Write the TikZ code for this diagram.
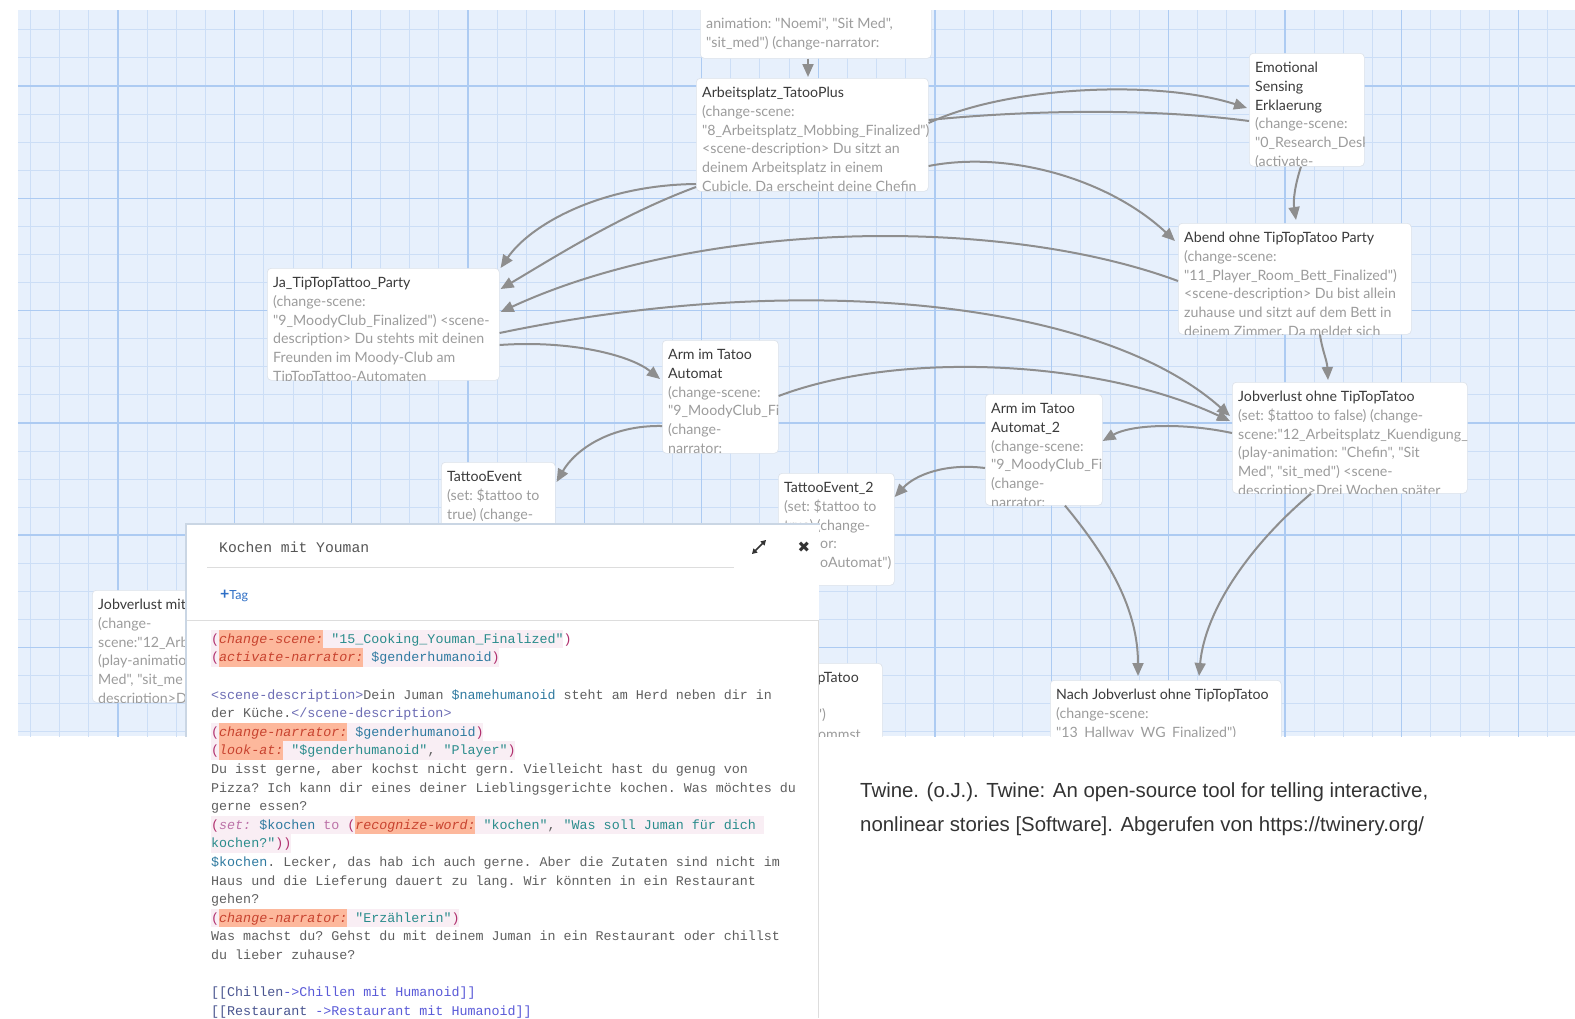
\documentclass[tikz,border=0pt]{standalone}
\usepackage{fontspec}
\usetikzlibrary{arrows.meta,calc}
\newfontfamily\nodefont{Lato}
\newfontfamily\codefont{Liberation Mono}
\newfontfamily\capfont{Liberation Sans}
\newfontfamily\symfont{DejaVu Sans}
\definecolor{gridbg}{HTML}{E7F0FC}
\definecolor{gridminor}{HTML}{CCDEF6}
\definecolor{gridmajor}{HTML}{ADCBF2}
\definecolor{ttlc}{HTML}{3A3A3A}
\definecolor{bodyc}{HTML}{9C9C9C}
\definecolor{boxline}{HTML}{DCE2EA}
\definecolor{arrowc}{HTML}{8E8E8E}
\definecolor{cplain}{HTML}{5F5F5F}
\definecolor{cparen}{HTML}{B0306E}
\definecolor{cmacro}{HTML}{C8432F}
\definecolor{cstr}{HTML}{2A8C8C}
\definecolor{cvar}{HTML}{2F7AA0}
\definecolor{ctag}{HTML}{6C6CB4}
\definecolor{csalmon}{HTML}{FDB89C}
\definecolor{cpink}{HTML}{F9EEF4}
\definecolor{cset}{HTML}{BC72A8}
\definecolor{clinka}{HTML}{4A5590}
\definecolor{clinkb}{HTML}{5A5AD8}
\definecolor{hdrc}{HTML}{555555}
\definecolor{tagc}{HTML}{2E6FC6}
\definecolor{iconc}{HTML}{333333}
\definecolor{capc}{HTML}{333333}
\definecolor{rulec}{HTML}{DDDDDD}
\definecolor{panelshadow}{HTML}{CAD6E4}
\newcommand\ttl[1]{\textcolor{ttlc}{#1}}
\newcommand\kP[1]{\textcolor{cparen}{#1}}
\newcommand\kM[1]{\textcolor{cmacro}{\itshape #1}}
\newcommand\kS[1]{\textcolor{cstr}{#1}}
\newcommand\kV[1]{\textcolor{cvar}{#1}}
\newcommand\kT[1]{\textcolor{ctag}{#1}}
\newcommand\kK[1]{\textcolor{cset}{#1}}
\newcommand\kA[1]{\textcolor{clinka}{#1}}
\newcommand\kB[1]{\textcolor{clinkb}{#1}}
\tikzset{
  passagebox/.style={draw=boxline, fill=white, rounded corners=4pt, inner sep=0pt, line width=0.6pt},
  ptfont/.style={font=\nodefont\fontsize{14.2}{18.7}\selectfont\frenchspacing},
  passagetext/.style={anchor=north west, inner sep=0pt, align=left, text=bodyc, ptfont},
  fragment/.style={inner sep=0pt, text=bodyc, ptfont},
  conn/.style={draw=arrowc, line width=2pt, -{Triangle[length=13pt,width=11pt]}},
  connplain/.style={draw=arrowc, line width=2pt},
}
\newcommand\passage[6]{%
  \node[passagebox, minimum width=#4, minimum height=#5, anchor=north west] (#1) at (#2,#3) {};
  \begin{scope}
    \clip[rounded corners=4pt] (#2,#3) rectangle ++(#4,#5);
    \node[passagetext] (#1-text) at ({#2+6},{#3+6.4}) {\strut #6};
  \end{scope}}
\newcommand\codebg[4]{%
  \fill[#4] ({211+8.011*#2},{643+18.6*#1-13.3}) rectangle ({211+8.011*#3},{643+18.6*#1+5.3});}
\begin{document}
\begin{tikzpicture}[x=1pt,y=-1pt]
\useasboundingbox (0,0) rectangle (1575,1018);
\fill[white] (0,0) rectangle (1575,1018);
\begin{scope}
  \clip (18,10) rectangle (1575,736);
  \fill[gridbg] (18,10) rectangle (1575,736);
  \foreach \i in {-4,...,50} {\pgfmathsetmacro\xx{118+29.175*\i}\draw[gridminor, line width=0.9pt] (\xx,0) -- (\xx,740);}
  \foreach \i in {-3,...,24} {\pgfmathsetmacro\yy{86+28.075*\i}\draw[gridminor, line width=0.9pt] (0,\yy) -- (1575,\yy);}
  \foreach \i in {-1,...,12} {\pgfmathsetmacro\xx{118+116.7*\i}\draw[gridmajor, line width=1.3pt] (\xx,0) -- (\xx,740);}
  \foreach \i in {-1,...,6} {\pgfmathsetmacro\yy{86+112.3*\i}\draw[gridmajor, line width=1.6pt] (0,\yy) -- (1575,\yy);}

  \passage{T0}{700}{-10}{231}{68}{\mbox{}\\animation: "Noemi", "Sit Med",\\"sit\_med") (change-narrator:}
  \passage{A}{696}{78}{232}{113}{\ttl{Arbeitsplatz\_TatooPlus}\\(change-scene:\\"8\_Arbeitsplatz\_Mobbing\_Finalized")\\<scene-description> Du sitzt an\\deinem Arbeitsplatz in einem\\Cubicle. Da erscheint deine Chefin}
  \passage{E}{1249}{53}{115}{113}{\ttl{Emotional}\\\ttl{Sensing}\\\ttl{Erklaerung}\\(change-scene:\\"0\_Research\_Desk\_Finalized")\\(activate-}
  \passage{B}{1178}{223}{233}{111}{\ttl{Abend ohne TipTopTatoo Party}\\(change-scene:\\"11\_Player\_Room\_Bett\_Finalized")\\<scene-description> Du bist allein\\zuhause und sitzt auf dem Bett in\\deinem Zimmer. Da meldet sich}
  \passage{J}{267}{268}{232}{112}{\ttl{Ja\_TipTopTattoo\_Party}\\(change-scene:\\"9\_MoodyClub\_Finalized") <scene-\\description> Du stehts mit deinen\\Freunden im Moody-Club am\\TipTopTattoo-Automaten}
  \passage{M}{662}{340}{116}{113}{\ttl{Arm im Tatoo}\\\ttl{Automat}\\(change-scene:\\"9\_MoodyClub\_Finalized")\\(change-\\narrator:}
  \passage{TE}{441}{462}{114}{120}{\ttl{TattooEvent}\\(set: \$tattoo to\\true) (change-}
  \passage{M2}{985}{394}{117}{111}{\ttl{Arm im Tatoo}\\\ttl{Automat\_2}\\(change-scene:\\"9\_MoodyClub\_Finalized")\\(change-\\narrator:}
  \passage{TE2}{778}{473}{116}{112}{\ttl{TattooEvent\_2}\\(set: \$tattoo to\\true) (change-}
  \node[fragment, anchor=base west] (TE2-t4) at (820,548.3) {or:};
  \node[fragment, anchor=base west] (TE2-t5) at (820,567) {oAutomat")};
  \passage{JO}{1232}{382}{235}{111}{\ttl{Jobverlust ohne TipTopTatoo}\\(set: \$tattoo to false) (change-\\scene:"12\_Arbeitsplatz\_Kuendigung\_Finalized")\\(play-animation: "Chefin", "Sit\\Med", "sit\_med") <scene-\\description>Drei Wochen später}
  \passage{JM}{92}{590}{232}{112}{\ttl{Jobverlust mit}\\(change-\\scene:"12\_Arb\\(play-animatio\\Med", "sit\_me\\description>Dr}
  \passage{NJ}{1050}{680}{231}{110}{\ttl{Nach Jobverlust ohne TipTopTatoo}\\(change-scene:\\"13\_Hallway\_WG\_Finalized")}
  \node[passagebox, minimum width=232, minimum height=112, anchor=north west] (PT) at (650,663) {};
  \node[fragment, anchor=base east, text=ttlc] (PT-t1) at (859,682.5) {pTatoo};
  \node[fragment, anchor=base east] (PT-t3) at (826,719.9) {")};
  \node[fragment, anchor=base east] (PT-t4) at (861,739.6) {ommst};

  % connectors
  \draw[conn] ($(T0.south west)+(108,0)$) -- ($(A.north west)+(112,-1)$);
  \draw[conn] ($(A.north east)+(0,45)$) .. controls (1010,85) and (1160,80) .. ($(E.north west)+(-2,55)$);
  \draw[connplain] ($(E.north west)+(0,68)$) .. controls (1150,108) and (1030,110) .. ($(A.north east)+(0,42)$);
  \draw[conn] ($(A.north east)+(0,88)$) .. controls (1010,150) and (1110,180) .. ($(B.north west)+(-3,18)$);
  \draw[conn] ($(E.south west)+(52,0)$) .. controls (1295,185) and (1293,200) .. ($(B.north west)+(118,-3)$);
  \draw[conn] ($(A.north west)+(0,106)$) .. controls (600,185) and (530,225) .. ($(J.north east)+(1,0)$);
  \draw[conn] ($(A.north west)+(0,109)$) .. controls (620,215) and (550,260) .. ($(J.north east)+(1,21)$);
  \draw[conn] ($(B.north west)+(0,58)$) .. controls (1000,215) and (700,220) .. ($(J.north east)+(1,44)$);
  \draw[conn] ($(J.north east)+(0,65)$) .. controls (800,270) and (1100,300) .. ($(JO.north west)+(-2,34)$);
  \draw[conn] ($(J.north east)+(0,77)$) .. controls (570,340) and (630,355) .. ($(M.north west)+(-2,39)$);
  \draw[conn] ($(M.north west)+(0,86)$) .. controls (610,425) and (575,450) .. ($(TE.north east)+(1,20)$);
  \draw[conn] ($(B.south west)+(142,0)$) .. controls (1322,350) and (1327,360) .. ($(JO.north west)+(96,-2)$);
  \draw[conn] ($(JO.north west)+(0,51)$) .. controls (1180,422) and (1130,425) .. ($(M2.north east)+(0,47)$);
  \draw[conn] ($(M2.north west)+(0,74)$) .. controls (945,463) and (915,475) .. ($(TE2.north east)+(0,24)$);
  \draw[conn] ($(M2.south west)+(80,0)$) .. controls (1110,560) and (1138,610) .. ($(NJ.north west)+(88,-4)$);
  \draw[conn] ($(JO.south west)+(79,0)$) .. controls (1250,545) and (1205,610) .. ($(NJ.north west)+(149,-4)$);
  \draw[conn] ($(M.north east)+(0,56)$) .. controls (900,350) and (1100,360) .. ($(JO.north west)+(-2,39)$);

  \draw[panelshadow, line width=1.2pt] (186,1018) -- (186,524) -- (820,524);
\end{scope}

% editor panel
\node[fill=white, inner sep=0pt, minimum width=632, minimum height=494, anchor=north west] (panel) at (187,525) {};
\draw[rulec, line width=1pt] (818,620) -- (818,1018);
\node[anchor=base west, inner sep=0pt, text=hdrc, font=\codefont\fontsize{14.7}{17}\selectfont] (hdr) at (219,552) {Kochen mit Youman};
\draw[rulec, line width=1pt] (207,567) -- (734,567);
\coordinate (ex1) at (752,554);
\coordinate (ex2) at (766,540);
\draw[iconc, line width=1.6pt, {Triangle[length=5pt,width=5.5pt]}-{Triangle[length=5pt,width=5.5pt]}] (ex1) -- (ex2);
\node[inner sep=0pt, text=iconc, font=\symfont\fontsize{15}{17}\selectfont] (close) at (804,547) {✖};
\node[anchor=base west, inner sep=0pt, text=tagc, font=\nodefont\fontsize{12.5}{15}\selectfont] (tag) at (220,599) {{\bfseries\fontsize{16}{16}\selectfont +}Tag};
\draw[rulec, line width=1pt] (187,620) -- (819,620);

% code backgrounds
\codebg{0}{0}{44}{cpink}\codebg{0}{1}{14}{csalmon}
\codebg{1}{0}{36}{cpink}\codebg{1}{1}{19}{csalmon}
\codebg{5}{0}{34}{cpink}\codebg{5}{1}{17}{csalmon}
\codebg{6}{0}{38}{cpink}\codebg{6}{1}{9}{csalmon}
\codebg{10}{0}{69}{cpink}\codebg{10}{18}{33}{csalmon}
\codebg{11}{0}{10}{cpink}
\codebg{15}{0}{31}{cpink}\codebg{15}{1}{17}{csalmon}

\node[anchor=north west, inner sep=0pt, align=left, text=cplain, font=\codefont\fontsize{13.35}{18.6}\selectfont\frenchspacing] (code) at (211,629.98) {\strut
\kP{(}\kM{change-scene:} \kS{"15\_Cooking\_Youman\_Finalized"}\kP{)}\\
\kP{(}\kM{activate-narrator:} \kV{\$genderhumanoid}\kP{)}\\
\mbox{}\\
\kT{<scene-description>}Dein Juman \kV{\$namehumanoid} steht am Herd neben dir in\\
der Küche.\kT{</scene-description>}\\
\kP{(}\kM{change-narrator:} \kV{\$genderhumanoid}\kP{)}\\
\kP{(}\kM{look-at:} \kS{"\$genderhumanoid"}, \kS{"Player"}\kP{)}\\
Du isst gerne, aber kochst nicht gern. Vielleicht hast du genug von\\
Pizza? Ich kann dir eines deiner Lieblingsgerichte kochen. Was möchtes du\\
gerne essen?\\
\kP{(}\kK{\itshape set:} \kV{\$kochen} \kK{to} \kP{(}\kM{recognize-word:} \kS{"kochen"}, \kS{"Was soll Juman für dich}\\
\kS{kochen?"}\kP{))}\\
\kV{\$kochen}. Lecker, das hab ich auch gerne. Aber die Zutaten sind nicht im\\
Haus und die Lieferung dauert zu lang. Wir könnten in ein Restaurant\\
gehen?\\
\kP{(}\kM{change-narrator:} \kS{"Erzählerin"}\kP{)}\\
Was machst du? Gehst du mit deinem Juman in ein Restaurant oder chillst\\
du lieber zuhause?\\
\mbox{}\\
\kA{[[Chillen}\kB{->Chillen mit Humanoid]]}\\
\kA{[[Restaurant }\kB{->Restaurant mit Humanoid]]}};

% caption
\node[anchor=north west, inner sep=0pt, align=left, text=capc, font=\capfont\fontsize{20.4}{34}\selectfont] (cap) at (860,773.2) {\strut Twine. (o.J.). Twine: An open-source tool for telling interactive,\\nonlinear stories [Software]. Abgerufen von https://twinery.org/};
\end{tikzpicture}
\end{document}
